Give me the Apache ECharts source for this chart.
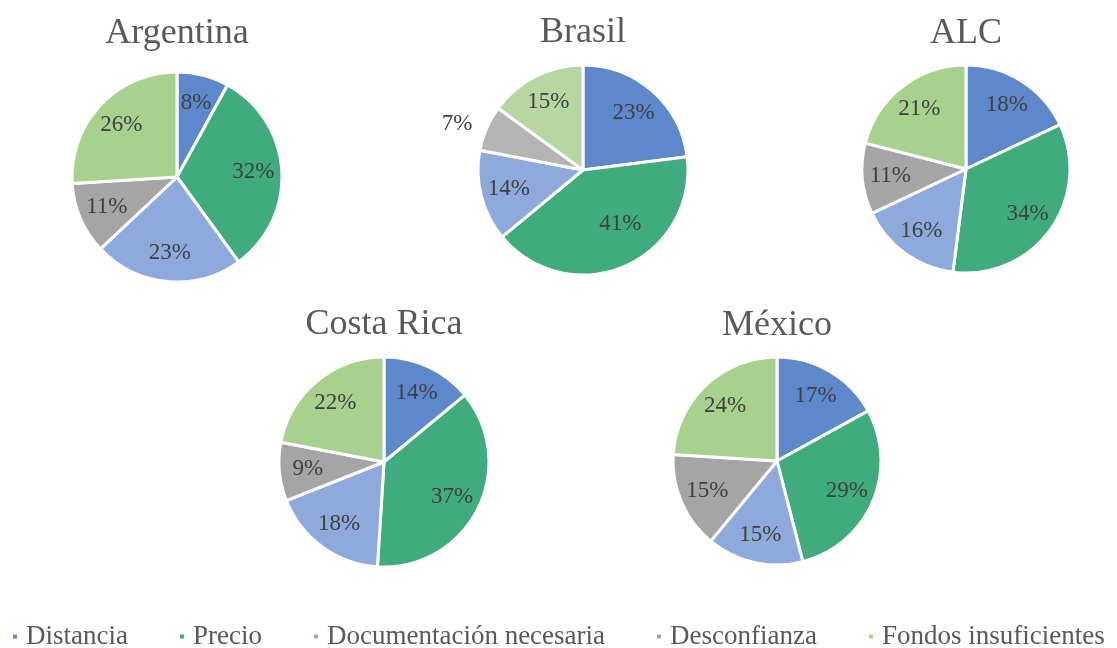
<!DOCTYPE html>
<html>
<head>
<meta charset="utf-8">
<script src="https://cdn.jsdelivr.net/npm/echarts@6/dist/echarts.min.js"></script>
<style>
  html, body { margin: 0; padding: 0; background: #fff; }
  #chart { width: 1117px; height: 648px; }
</style>
</head>
<body>
<div id="chart"></div>
<script>
// Reasons for not using the service, share per country (%)
const categories = ['Distancia', 'Precio', 'Documentación necesaria', 'Desconfianza', 'Fondos insuficientes'];
const regions = ['Argentina', 'Brasil', 'ALC', 'Costa Rica', 'México'];
const argentina = [8, 32, 23, 11, 26];
const brasil = [23, 41, 14, 7, 15];
const alc = [18, 34, 16, 11, 21];
const costaRica = [14, 37, 18, 9, 22];
const mexico = [17, 29, 15, 15, 24];

const colors = ['#5E88CC', '#40AB7D', '#8EAADC', '#A5A5A5', '#A9D18E'];
const FONT = '"Liberation Serif", "Times New Roman", serif';

// Layout of each pie: centre and radius in pixels, title position
const layout = [
  { values: argentina, center: [177, 177], r: 105, titleY: 34 },
  { values: brasil,    center: [583, 170], r: 105, titleY: 33, faded: true },
  { values: alc,       center: [966, 169], r: 104, titleY: 34 },
  { values: costaRica, center: [384, 462], r: 105, titleY: 325 },
  { values: mexico,    center: [777, 461], r: 104, titleY: 326 }
];

const series = [];
const graphic = [];

layout.forEach((p, k) => {
  const data = categories.map((name, i) => {
    const item = { name, value: p.values[i] };
    if (p.faded && i === 3) item.itemStyle = { color: '#B4B4B4' };
    if (p.faded && i === 4) item.itemStyle = { color: '#B7D7A2' };
    return item;
  });
  // visible slices
  series.push({
    type: 'pie',
    center: p.center,
    radius: [0, p.r],
    startAngle: 90,
    clockwise: true,
    silent: true,
    animation: false,
    itemStyle: { borderColor: '#ffffff', borderWidth: 3 },
    label: { show: false },
    labelLine: { show: false },
    emphasis: { disabled: true },
    data
  });
  // label ring: transparent sectors whose midpoints set the label radius
  const labelData = categories.map((name, i) => {
    const item = { name, value: p.values[i] };
    if (p.faded && i === 3) {
      item.label = { position: 'outside' };
      item.labelLine = { show: false, length: 10, length2: 0 };
    }
    if (p.faded && i === 1) {
      item.label = { offset: [7, -16] };
    }
    return item;
  });
  series.push({
    type: 'pie',
    center: p.center,
    radius: [Math.round(p.r * 0.4), p.r],
    startAngle: 90,
    clockwise: true,
    silent: true,
    animation: false,
    itemStyle: { color: 'rgba(0,0,0,0)', borderWidth: 0 },
    label: {
      show: true,
      position: 'inside',
      formatter: '{c}%',
      fontFamily: FONT,
      fontSize: 23,
      color: '#404040'
    },
    labelLine: { show: false, length: 10, length2: 0 },
    emphasis: { disabled: true },
    data: labelData
  });
  graphic.push({
    type: 'text',
    x: p.center[0],
    y: p.titleY,
    style: {
      text: regions[k],
      fontFamily: FONT,
      fontSize: 36,
      fill: '#595959',
      align: 'center',
      verticalAlign: 'middle'
    }
  });
});

const chart = echarts.init(document.getElementById('chart'), null, { renderer: 'canvas' });
chart.setOption({
  backgroundColor: '#ffffff',
  color: colors,
  animation: false,
  legend: {
    data: categories,
    left: 11,
    top: 623,
    width: 1106,
    padding: 0,
    itemWidth: 6,
    itemHeight: 6,
    itemGap: 50,
    icon: 'rect',
    selectedMode: false,
    textStyle: {
      fontFamily: FONT,
      fontSize: 27,
      color: '#595959',
      padding: [0, 0, 0, 3]
    }
  },
  graphic,
  series
});
</script>
</body>
</html>
